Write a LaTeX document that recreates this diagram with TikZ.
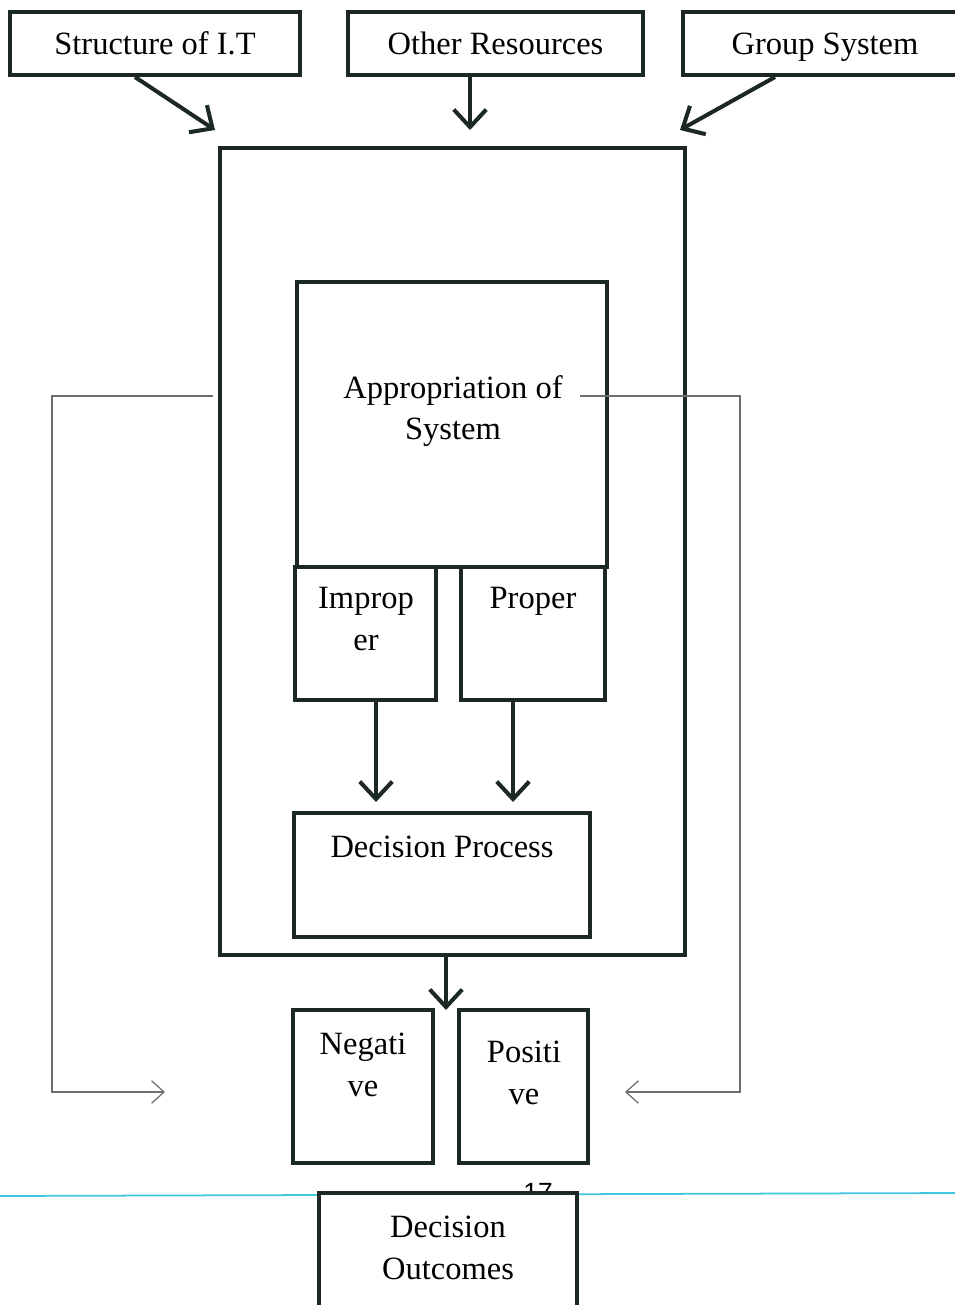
\documentclass[tikz,border=0pt]{standalone}
\usepackage{fontspec}
\setmainfont{Liberation Serif}
\newfontfamily\pagenumfont{Liberation Sans}
\usetikzlibrary{arrows.meta,calc}
\definecolor{ink}{HTML}{1C2824}
\definecolor{fbgray}{HTML}{6E6E6E}
\definecolor{pagerule}{HTML}{3EC6DE}
\begin{document}
\begin{tikzpicture}[x=0.02cm, y=-0.02cm,
    box/.style={rectangle, draw=ink, line width=2.3pt, fill=white, inner sep=0pt, font=\fontsize{18.5}{23.8}\selectfont},
    source/.style={box, minimum height=1.26cm, text depth=0pt},
    lbl/.style={align=center, inner sep=0pt, font=\fontsize{18.5}{23.8}\selectfont},
    flow/.style={draw=ink, line width=2.3pt, -{Straight Barb[length=3.5mm,width=6.5mm]}},
    fb/.style={draw=fbgray, line width=0.7pt, -{Straight Barb[length=2.5mm,width=4.5mm]}}]
    \useasboundingbox (0,0) rectangle (955,1305);
    \clip (0,0) rectangle (955,1305);

    % main frame and inner boxes
    \node[box, minimum width=9.3cm, minimum height=16.14cm] (outer) at (452.5,551.5) {};
    \node[box, minimum width=6.2cm, minimum height=5.7cm] (appro) at (452,424.5) {};
    \node[box, minimum width=2.82cm, minimum height=2.66cm] (improper) at (365.5,633.5) {};
    \node[box, minimum width=2.88cm, minimum height=2.66cm] (proper) at (533,633.5) {};
    \node[box, minimum width=5.92cm, minimum height=2.48cm] (decproc) at (442,875) {};
    \node[box, minimum width=2.8cm, minimum height=3.06cm] (neg) at (363,1086.5) {};
    \node[box, minimum width=2.58cm, minimum height=3.06cm] (pos) at (523.5,1086.5) {};

    \node[lbl] (tappro) at (453,411) {Appropriation of\\System};
    \node[lbl] (timp) at (366,619) {Improp\\er};
    \node[lbl] (tprop) at (533,601) {Proper};
    \node[lbl] (tdec) at (442,847) {Decision Process};
    \node[lbl] (tneg) at (363,1065) {Negati\\ve};
    \node[lbl] (tpos) at (524,1073) {Positi\\ve};

    % page edge
    \coordinate (ruleL) at (0,1196);
    \coordinate (ruleR) at (955,1193);
    \draw[pagerule, line width=1pt] (ruleL) -- (ruleR);
    \node[inner sep=0pt, font=\pagenumfont\fontsize{15}{15}\selectfont] (pnum) at (538,1192) {17};
    \node[box, minimum width=5.16cm, minimum height=2.6cm] (outc) at (448,1258) {};
    \node[lbl] (tout) at (448,1248) {Decision\\Outcomes};

    % inputs
    \node[source, minimum width=5.8cm] (struct) at (155,43.5) {Structure of I.T};
    \node[source, minimum width=5.9cm] (other) at (495.5,43.5) {Other Resources};
    \node[source, minimum width=5.68cm] (group) at (825,43.5) {Group System};

    \coordinate (aL) at (215,130);
    \coordinate (aM) at (470,130);
    \coordinate (aR) at (680,130);
    \draw[flow] ($(struct.south)+(-20,0)$) -- (aL);
    \draw[flow] ($(other.south)+(-25.5,0)$) -- (aM);
    \draw[flow] ($(group.south)+(-50,0)$) -- (aR);

    \draw[flow] ($(improper.south)+(10.5,0)$) -- ++(0,100);
    \draw[flow] ($(proper.south)+(-20,0)$) -- ++(0,100);
    \draw[flow] ($(outer.south)+(-6.5,0)$) -- ++(0,53);

    % feedback
    \coordinate (fbL1) at (213,396);
    \coordinate (fbL2) at (165,1092);
    \coordinate (fbR1) at (580,396);
    \coordinate (fbR2) at (625,1092);
    \draw[fb] (fbL1) -- ++(-161,0) |- (fbL2);
    \draw[fb] (fbR1) -- ++(160,0) |- (fbR2);
\end{tikzpicture}
\end{document}
